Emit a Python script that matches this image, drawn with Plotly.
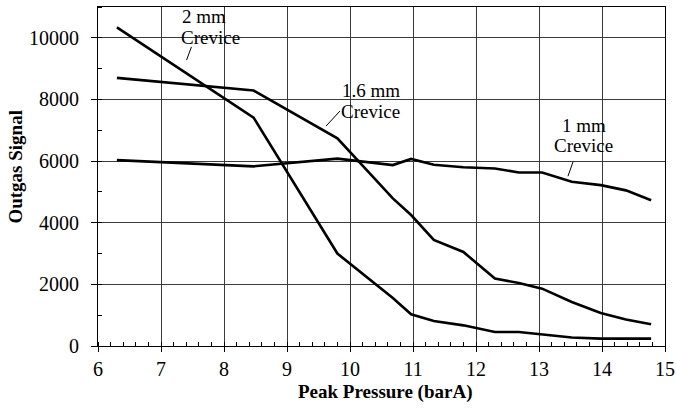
import plotly.graph_objects as go

pressure = [6.3, 8.47, 9.8, 10.68, 10.97, 11.33, 11.8, 12.3, 12.68, 13.05, 13.52, 13.98, 14.38, 14.78]
signal_2mm = [10340, 7410, 3000, 1560, 1030, 810, 670, 455, 455, 380, 275, 240, 240, 240]
signal_16mm = [8700, 8290, 6740, 4790, 4250, 3440, 3050, 2190, 2045, 1860, 1430, 1070, 860, 705]
signal_1mm = [6030, 5830, 6080, 5870, 6070, 5880, 5800, 5760, 5630, 5630, 5330, 5220, 5050, 4730]

x_ticks = [6, 7, 8, 9, 10, 11, 12, 13, 14, 15]
y_ticks = [0, 2000, 4000, 6000, 8000, 10000]

FONT = "Liberation Serif"

fig = go.Figure()
for ys in (signal_2mm, signal_16mm, signal_1mm):
    fig.add_trace(go.Scatter(x=pressure, y=ys, mode="lines",
                             line=dict(color="black", width=2.6),
                             showlegend=False, hoverinfo="skip"))

grid = "#3a3a3a"
fig.update_xaxes(range=[6, 15], tickvals=x_ticks, ticktext=[str(v) for v in x_ticks],
                 showgrid=True, gridcolor=grid, gridwidth=1,
                 showline=True, linecolor="black", linewidth=1, mirror=True,
                 ticks="outside", ticklen=5, tickcolor="black",
                 ticklabelstandoff=0, ticklabeloverflow="allow", automargin=False,
                 minor=dict(dtick=0.2, tick0=6, ticks="inside", ticklen=4,
                            tickcolor="black", showgrid=False),
                 tickfont=dict(family=FONT, size=20, color="black"),
                 zeroline=False)
fig.update_yaxes(range=[0, 11000], tickvals=y_ticks, ticktext=[str(v) for v in y_ticks],
                 showgrid=True, gridcolor=grid, gridwidth=1,
                 showline=True, linecolor="black", linewidth=1, mirror=True,
                 ticks="outside", ticklen=6, tickcolor="black",
                 ticklabelstandoff=8, ticklabeloverflow="allow", automargin=False,
                 minor=dict(dtick=1000, tick0=0, ticks="inside", ticklen=4,
                            tickcolor="black", showgrid=False),
                 tickfont=dict(family=FONT, size=20, color="black"),
                 zeroline=False)

labels = [
    ("2 mm", 7.68, 10680), ("Crevice", 7.78, 10000),
    ("1.6 mm", 10.34, 8290), ("Crevice", 10.33, 7620),
    ("1 mm", 13.71, 7150), ("Crevice", 13.71, 6490),
]
for txt, xx, yy in labels:
    fig.add_annotation(x=xx, y=yy, text=txt, showarrow=False,
                       font=dict(family=FONT, size=19, color="black"),
                       xanchor="center", yanchor="middle", borderpad=0)

leaders = [((7.405, 9276), (7.484, 9708)),
           ((9.62, 7136), (9.84, 7623)),
           ((13.46, 5510), (13.54, 5974))]
for (x0, y0), (x1, y1) in leaders:
    fig.add_shape(type="line", x0=x0, y0=y0, x1=x1, y1=y1, xref="x", yref="y",
                  line=dict(color="black", width=1))

fig.add_annotation(xref="paper", yref="paper", x=0.507, y=-0.135,
                   text="<b>Peak Pressure (barA)</b>", showarrow=False,
                   font=dict(family=FONT, size=19, color="black"),
                   xanchor="center", yanchor="middle")
fig.add_annotation(xref="paper", yref="paper", x=-0.146, y=0.53,
                   text="<b>Outgas Signal</b>", showarrow=False, textangle=-90,
                   font=dict(family=FONT, size=19, color="black"),
                   xanchor="center", yanchor="middle")

fig.update_layout(width=676, height=412,
                  margin=dict(l=98, r=11, t=7, b=66),
                  paper_bgcolor="white", plot_bgcolor="white")

fig.write_html("out.html")
